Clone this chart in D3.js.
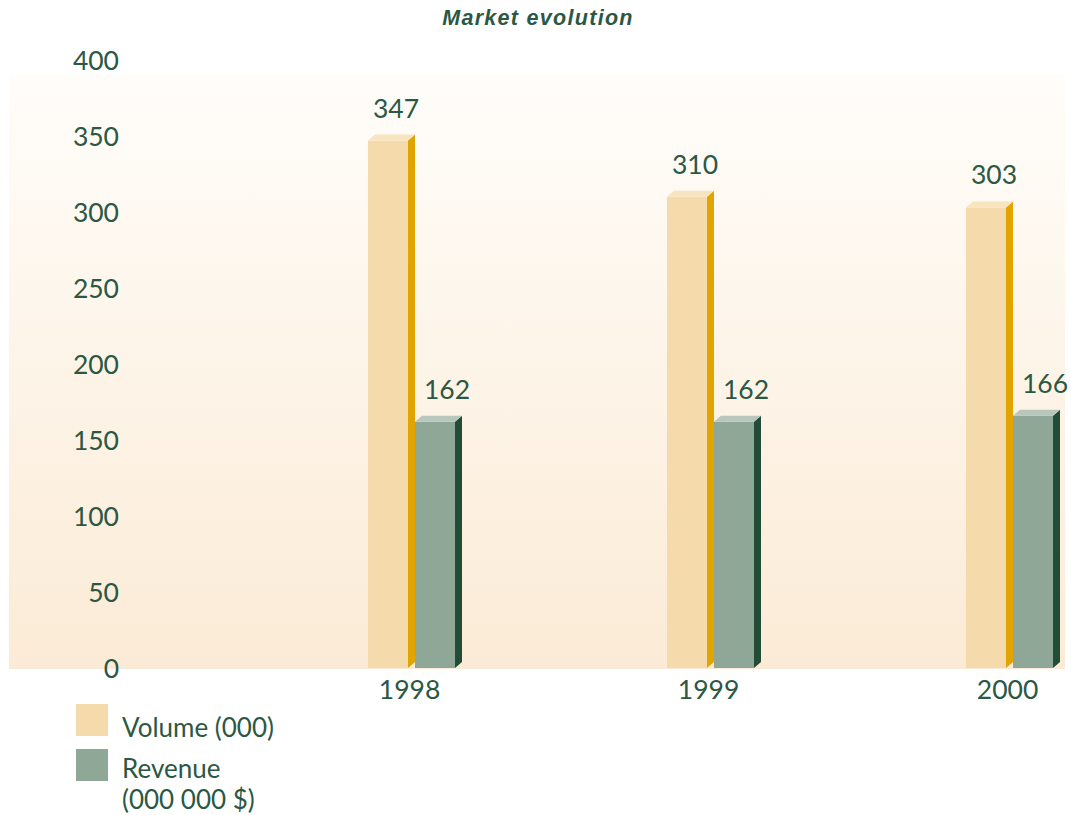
<!DOCTYPE html>
<html><head><meta charset="utf-8">
<script src="https://cdn.jsdelivr.net/npm/d3@7"></script>
<style>body{margin:0;background:#fff}svg{display:block}</style>
</head><body>
<script>
const categories = ["1998", "1999", "2000"];
const volume = [347, 310, 303];
const revenue = [162, 162, 166];
const yTicks = [0, 50, 100, 150, 200, 250, 300, 350, 400];
const seriesNames = ["Volume (000)", "Revenue\n(000 000 $)"];
const title = "Market evolution";

const W = 1071, H = 815;
const textColor = "#2b5844";
const font = "Lato, 'Open Sans', sans-serif";
const svg = d3.select("body").append("svg").attr("width", W).attr("height", H);

const defs = svg.append("defs");
const g = defs.append("linearGradient").attr("id", "bg").attr("x1", 0).attr("y1", 0).attr("x2", 0).attr("y2", 1);
g.append("stop").attr("offset", "0%").attr("stop-color", "#fffdfa");
g.append("stop").attr("offset", "100%").attr("stop-color", "#fbebd6");

const plot = {left: 9, right: 1065, top: 75, bottom: 668};
svg.append("rect").attr("x", plot.left).attr("y", plot.top)
  .attr("width", plot.right - plot.left).attr("height", plot.bottom - plot.top + 1)
  .attr("fill", "url(#bg)");

const y = d3.scaleLinear().domain([0, 400]).range([668, 60]);
const x = d3.scalePoint().domain(categories).range([409, 1007]);

svg.append("text").attr("x", 538).attr("y", 25).attr("text-anchor", "middle")
  .attr("font-family", "'Liberation Sans', Arial, sans-serif").attr("font-weight", "bold")
  .attr("font-style", "italic").attr("font-size", 21.5).attr("letter-spacing", 1.3)
  .attr("fill", textColor).text(title);

// y axis labels
const yAxis = d3.axisLeft(y).tickValues(yTicks).tickSize(0).tickPadding(0);
const ya = svg.append("g").attr("transform", "translate(119,0)").call(yAxis);
ya.select(".domain").remove();
ya.selectAll("text").attr("font-family", font).attr("font-size", 26.5)
  .attr("fill", textColor).attr("dy", "0.36em");

// x axis labels
const xAxis = d3.axisBottom(x).tickSize(0).tickPadding(0);
const xa = svg.append("g").attr("transform", "translate(0,678)").call(xAxis);
xa.select(".domain").remove();
xa.selectAll("text").attr("font-family", font).attr("font-size", 26.5)
  .attr("fill", textColor).attr("dy", "0.78em");

const bw = 40, dx = 7, dy = 6;
const series = [
  {vals: volume, off: -41, lab: 8, front: "#f5dbab", side: "#e2a500", top: "#f8e4bf"},
  {vals: revenue, off: 6, lab: 12, front: "#8fa797", side: "#234c37", top: "#b9c6bb"}
];
series.forEach(s => {
  const gg = svg.append("g");
  categories.forEach((c, i) => {
    const x0 = x(c) + s.off, x1 = x0 + bw, t = y(s.vals[i]), b = y(0);
    gg.append("rect").attr("x", x0).attr("y", t).attr("width", bw).attr("height", b - t).attr("fill", s.front);
    gg.append("path").attr("d", `M${x1},${t}L${x1+dx},${t-dy}L${x1+dx},${b-dy}L${x1},${b}Z`).attr("fill", s.side);
    gg.append("path").attr("d", `M${x0},${t}L${x0+dx},${t-dy}L${x1+dx},${t-dy}L${x1},${t}Z`).attr("fill", s.top);
    gg.append("text").attr("x", x0 + bw/2 + s.lab).attr("y", t - 23).attr("text-anchor", "middle")
      .attr("font-family", font).attr("font-size", 26.5).attr("fill", textColor).text(s.vals[i]);
  });
});

// legend
const leg = [{c: "#f5dbab", y: 704, base: 737}, {c: "#8fa797", y: 749, base: 777.5}];
leg.forEach((l, i) => {
  svg.append("rect").attr("x", 76).attr("y", l.y).attr("width", 32).attr("height", 32).attr("fill", l.c);
  const lines = seriesNames[i].split("\n");
  lines.forEach((ln, j) => svg.append("text").attr("x", 122).attr("y", l.base + j * 31.5)
    .attr("font-family", font).attr("font-size", 26).attr("fill", textColor).text(ln));
});
</script>
</body></html>
